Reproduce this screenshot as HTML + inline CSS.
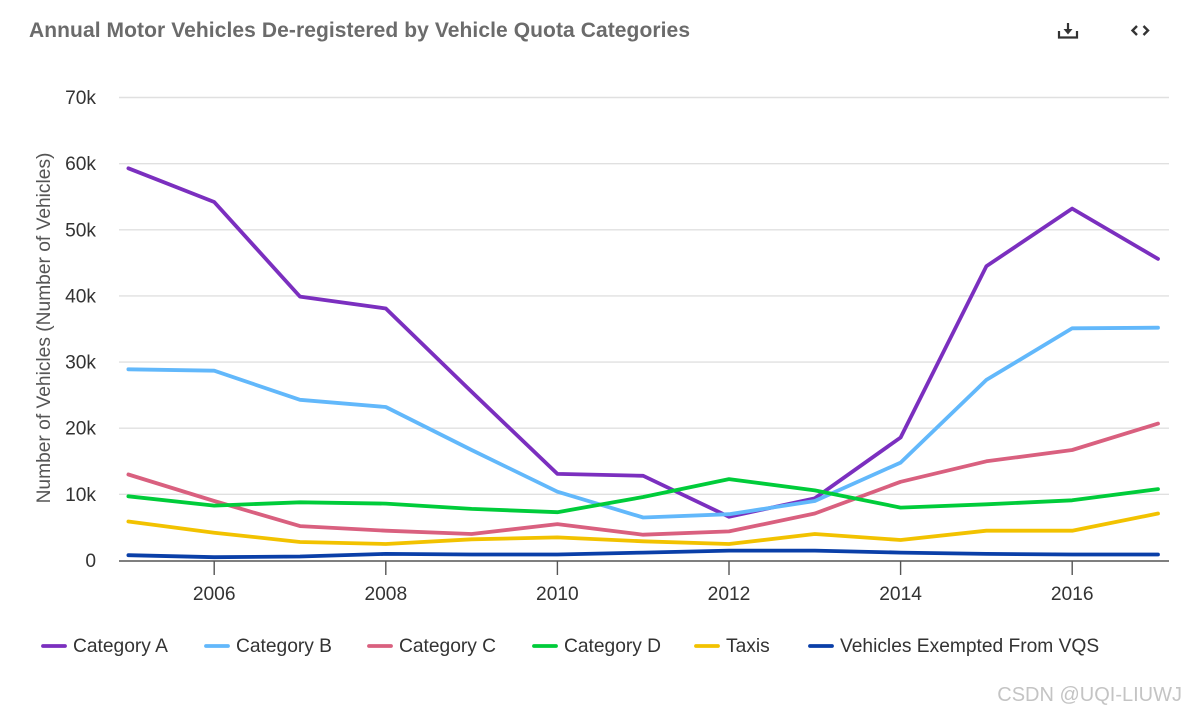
<!DOCTYPE html>
<html lang="en">
<head>
<meta charset="utf-8">
<title>Annual Motor Vehicles De-registered by Vehicle Quota Categories</title>
<style>
html,body{margin:0;padding:0;background:#fff;width:1185px;height:715px;overflow:hidden}
svg{display:block;font-family:"Liberation Sans",sans-serif}
</style>
</head>
<body>
<svg id="chart" width="1185" height="715" viewBox="0 0 1185 715" xmlns="http://www.w3.org/2000/svg">
  <rect width="1185" height="715" fill="#fff"/>
  <text x="29" y="37" font-size="21" font-weight="700" fill="#6b6b6b" textLength="661" lengthAdjust="spacing">Annual Motor Vehicles De-registered by Vehicle Quota Categories</text>
  <g fill="none" stroke="#333" stroke-width="2.200">
    <path d="M1059 31v6.500h18V31"/>
    <path d="M1068 23v8"/>
    <path d="M1063.500 29h9l-4.500 5.500z" fill="#333" stroke="none"/>
  </g>
  <g fill="none" stroke="#333" stroke-width="2.400">
    <path d="M1137 26l-4.500 4.500 4.500 4.500"/>
    <path d="M1143.500 26l4.500 4.500-4.500 4.500"/>
  </g>
  <g id="grid"></g>
  <g id="axes"></g>
  <g id="series"></g>
  <g id="legend"></g>
  <text transform="translate(50,328) rotate(-90)" text-anchor="middle" font-size="19.200" fill="#555">Number of Vehicles (Number of Vehicles)</text>
  <text x="1182" y="701" text-anchor="end" font-size="20" fill="#c4c4c4">CSDN @UQI-LIUWJ</text>
</svg>
<script>
const years = [2005,2006,2007,2008,2009,2010,2011,2012,2013,2014,2015,2016,2017];
const categoryA = [59300,54200,39900,38100,25500,13100,12800,6600,9400,18600,44500,53200,45600];
const categoryB = [28900,28700,24300,23200,16700,10400,6500,7000,9000,14800,27300,35100,35200];
const categoryC = [13000,9000,5200,4500,4000,5500,3900,4400,7100,11900,15000,16700,20700];
const categoryD = [9700,8300,8800,8600,7800,7300,9600,12300,10600,8000,8500,9100,10800];
const taxis = [5900,4200,2800,2500,3200,3500,2900,2500,4000,3100,4500,4500,7100];
const exempted = [800,500,600,1000,900,900,1200,1500,1500,1200,1000,900,900];
const yTicks = [0,10000,20000,30000,40000,50000,60000,70000];
const yTickLabels = ['0','10k','20k','30k','40k','50k','60k','70k'];
const xTicks = [2006,2008,2010,2012,2014,2016];
const seriesNames = ['Category A','Category B','Category C','Category D','Taxis','Vehicles Exempted From VQS'];
const seriesValues = [categoryA,categoryB,categoryC,categoryD,taxis,exempted];
const seriesColors = ['#7b2fbf','#62b8fb','#d9607f','#00cc3a','#f2c200','#0a3fa8'];
const legendStarts = [42,205,368,533,695,809];

const NS = 'http://www.w3.org/2000/svg';
const xScale = function (year) { return 214.2 + (year - 2006) * 85.8; };
const yScale = function (value) { return 560.5 - value * (463 / 70000); };
function make(tag, attrs, parent, text) {
  const el = document.createElementNS(NS, tag);
  for (const key in attrs) { el.setAttribute(key, attrs[key]); }
  if (text !== undefined) { el.textContent = text; }
  parent.appendChild(el);
  return el;
}
const gridG = document.getElementById('grid');
const axesG = document.getElementById('axes');
const seriesG = document.getElementById('series');
const legendG = document.getElementById('legend');

yTicks.forEach(function (tick, i) {
  if (tick !== 0) {
    const line = make('line', {x1:119, x2:1169, y1:yScale(tick), y2:yScale(tick), stroke:'#e0e0e0', 'stroke-width':1.4}, gridG);
    
    
  }
  const label = make('text', {x:96, y:yScale(tick) + 6.500, 'text-anchor':'end', 'font-size':19.2, fill:'#333'}, axesG, yTickLabels[i]);
  
  
});

const axisLine = make('line', {x1:119, x2:1169, y1:561, y2:561, stroke:'#555', 'stroke-width':1.4}, axesG);



xTicks.forEach(function (tick) {
  const mark = make('line', {x1:xScale(tick), x2:xScale(tick), y1:561, y2:575, stroke:'#555', 'stroke-width':1.4}, axesG);
  
  
  const label = make('text', {x:xScale(tick), y:600, 'text-anchor':'middle', 'font-size':19.2, fill:'#333'}, axesG, String(tick));
  
  
});

seriesValues.forEach(function (values, s) {
  const pts = values.map(function (v, i) { return xScale(years[i]).toFixed(1) + ',' + yScale(v).toFixed(1); }).join(' ');
  const line = make('polyline', {points:pts, fill:'none', stroke:seriesColors[s], 'stroke-width':3.8, 'stroke-linejoin':'round', 'stroke-linecap':'round'}, seriesG);
  
  

  const item = make('g', {}, legendG);
  
  
  make('line', {x1:legendStarts[s] + 1, x2:legendStarts[s] + 23, y1:646, y2:646, stroke:seriesColors[s], 'stroke-width':3.8, 'stroke-linecap':'round'}, item);
  make('text', {x:legendStarts[s] + 31, y:652, 'font-size':19.2, fill:'#333'}, item, seriesNames[s]);
});
</script>
</body>
</html>
